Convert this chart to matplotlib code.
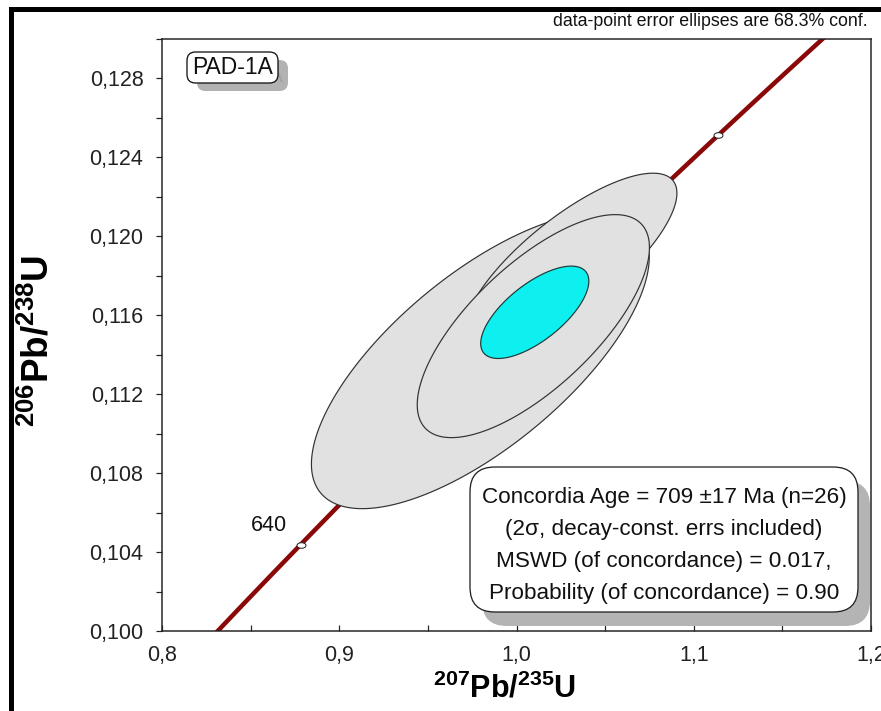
import numpy as np
import matplotlib
matplotlib.use("Agg")
import matplotlib.pyplot as plt
from matplotlib.patches import FancyBboxPatch
from matplotlib.lines import Line2D
from matplotlib.path import Path
from matplotlib.ticker import MultipleLocator, FuncFormatter

plt.rcParams['font.family'] = ['Liberation Sans', 'DejaVu Sans']
plt.rcParams['mathtext.fontset'] = 'custom'
plt.rcParams['mathtext.rm'] = 'Liberation Sans'
plt.rcParams['mathtext.bf'] = 'Liberation Sans:bold'
plt.rcParams['mathtext.it'] = 'Liberation Sans:italic'

# ---------------- data ----------------
# decay constants (1/yr) for the concordia curve
lambda_238 = 1.55125e-10
lambda_235 = 9.8485e-10
curve_age_min_ma = 600
curve_age_max_ma = 800
marker_ages_ma = [640, 760]
labelled_ages_ma = [640]

# data-point error ellipses (68.3% conf.): centre, half-widths, correlation
ell_x = [0.9796, 1.0305, 1.0095]
ell_y = [0.1137, 0.1187, 0.11545]
ell_sx = [0.0953, 0.0600, 0.0655]
ell_sy = [0.0075, 0.0045, 0.00565]
ell_rho = [0.699, 0.775, 0.705]

# concordia age ellipse
age_x, age_y = 1.0103, 0.11615
age_sx, age_sy, age_rho = 0.0305, 0.00234, 0.675

x_ticks = [0.8, 0.9, 1.0, 1.1, 1.2]
y_ticks = [0.100, 0.104, 0.108, 0.112, 0.116, 0.120, 0.124, 0.128]

sample_name = "PAD-1A"
result_lines = ["Concordia Age = 709 \u00b117 Ma (n=26)",
                "(2\u03c3, decay-const. errs included)",
                "MSWD (of concordance) = 0.017,",
                "Probability (of concordance) = 0.90"]
note_text = "data-point error ellipses are 68.3% conf."

# ---------------- figure ----------------
W, H = 881, 711
fig = plt.figure(figsize=(W/100, H/100), dpi=100)
L, R, T, B = 162, 871, 39, 631
ax = fig.add_axes([L/W, (H-B)/H, (R-L)/W, (B-T)/H])
ax.set_xlim(0.8, 1.2)
ax.set_ylim(0.100, 0.130)

def px(v):
    return v * 72 / 100.0

# concordia curve
t = np.linspace(curve_age_min_ma, curve_age_max_ma, 400) * 1e6
cx = np.exp(lambda_235 * t) - 1
cy = np.exp(lambda_238 * t) - 1
ax.plot(cx, cy, color='#8A0808', lw=px(4.5), zorder=2, solid_capstyle='butt')

def ellipse_xy(x0, y0, sx, sy, rho, n=300):
    th = np.linspace(0, 2*np.pi, n)
    return (x0 + sx*np.cos(th),
            y0 + sy*(rho*np.cos(th) + np.sqrt(1-rho**2)*np.sin(th)))

for i in range(len(ell_x)):
    xs, ys = ellipse_xy(ell_x[i], ell_y[i], ell_sx[i], ell_sy[i], ell_rho[i])
    ax.fill(xs, ys, facecolor='#E1E1E1', edgecolor='#333333', lw=px(1.2), zorder=3+i)

xs, ys = ellipse_xy(age_x, age_y, age_sx, age_sy, age_rho)
ax.fill(xs, ys, facecolor='#0EF0F0', edgecolor='#1E3A3A', lw=px(1.2), zorder=10)

# age markers (small flat ellipses)
th = np.linspace(0, 2*np.pi, 40)
ell_marker = Path(np.column_stack([np.cos(th), 0.62*np.sin(th)]), closed=True)
ma = np.array(marker_ages_ma) * 1e6
mx = np.exp(lambda_235 * ma) - 1
my = np.exp(lambda_238 * ma) - 1
ax.plot(mx, my, ls='none', marker=ell_marker, ms=px(9), mfc='white', mec='#222222',
        mew=px(1), zorder=11)
for a in labelled_ages_ma:
    aa = a * 1e6
    ax.annotate(str(a), (np.exp(lambda_235*aa)-1, np.exp(lambda_238*aa)-1),
                xytext=(-32, 19), textcoords='offset pixels', ha='center', va='center',
                fontsize=15.5, color='#111111', zorder=12)

# ticks
ax.xaxis.set_minor_locator(MultipleLocator(0.05))
ax.yaxis.set_minor_locator(MultipleLocator(0.002))
ax.set_xticks(x_ticks)
ax.set_yticks(y_ticks)
ax.xaxis.set_major_formatter(FuncFormatter(lambda v, p: f"{v:.1f}".replace('.', ',')))
ax.yaxis.set_major_formatter(FuncFormatter(lambda v, p: f"{v:.3f}".replace('.', ',')))
ax.tick_params(axis='x', which='both', direction='in', length=px(6), width=px(1.2),
               labelsize=15.5, pad=10, colors='#222222')
ax.tick_params(axis='y', which='both', direction='out', length=px(6), width=px(1.2),
               labelsize=15.5, pad=9, colors='#222222')
for s in ax.spines.values():
    s.set_linewidth(px(1.5))
    s.set_color('#222222')

ax.set_xlabel(r'$\mathbf{^{207}Pb/^{235}U}$', fontsize=22, va='center')
ax.xaxis.set_label_coords((505-L)/(R-L), (B-689)/(B-T))
ax.set_ylabel(r'$\mathbf{^{206}Pb/^{238}U}$', fontsize=26.5, va='center')
ax.yaxis.set_label_coords((38-L)/(R-L), (B-341)/(B-T))

# sample name box with shadow
def ax_x(p): return (p-L)/(R-L)
def ax_y(p): return (B-p)/(B-T)
asp = (R-L)/(B-T)
sh = FancyBboxPatch((ax_x(197), ax_y(91)), ax_x(288)-ax_x(197), ax_y(60)-ax_y(91),
                    boxstyle="round,pad=0,rounding_size=0.012", transform=ax.transAxes,
                    fc='#B2B2B2', ec='none', zorder=20, mutation_aspect=asp)
ax.add_patch(sh)
ax.text(ax_x(243), ax_y(76), sample_name, transform=ax.transAxes, fontsize=16.5,
        color='#A3A3A3', ha='center', va='center', zorder=21)
bx = FancyBboxPatch((ax_x(187), ax_y(83)), ax_x(278)-ax_x(187), ax_y(52)-ax_y(83),
                    boxstyle="round,pad=0,rounding_size=0.012", transform=ax.transAxes,
                    fc='white', ec='#111111', lw=px(1.3), zorder=22, mutation_aspect=asp)
ax.add_patch(bx)
ax.text(ax_x(232.5), ax_y(67.5), sample_name, transform=ax.transAxes, fontsize=16.5,
        color='#111111', ha='center', va='center', zorder=23)

# results box with shadow
sh2 = FancyBboxPatch((ax_x(482), ax_y(626)), ax_x(870)-ax_x(482), ax_y(481)-ax_y(626),
                     boxstyle="round,pad=0,rounding_size=0.035", transform=ax.transAxes,
                     fc='#B4B4B4', ec='none', zorder=20, mutation_aspect=asp)
ax.add_patch(sh2)
bx2 = FancyBboxPatch((ax_x(470), ax_y(612)), ax_x(858)-ax_x(470), ax_y(467)-ax_y(612),
                     boxstyle="round,pad=0,rounding_size=0.035", transform=ax.transAxes,
                     fc='white', ec='#222222', lw=px(1.3), zorder=22, mutation_aspect=asp)
ax.add_patch(bx2)
for i, line in enumerate(result_lines):
    ax.text(ax_x(664), ax_y(498 + 31.7*i), line, transform=ax.transAxes, fontsize=16.2,
            color='#111111', ha='center', va='center', zorder=23)

# note at top
fig.text(868/W, 1-22/H, note_text, fontsize=12.8, ha='right', va='center', color='#111111')

# outer frame (left and top edges)
fig.add_artist(Line2D([10.5/W, 10.5/W], [0, 1-9/H], color='black', lw=px(5),
                      transform=fig.transFigure, solid_capstyle='projecting'))
fig.add_artist(Line2D([10.5/W, 1], [1-9/H, 1-9/H], color='black', lw=px(5),
                      transform=fig.transFigure, solid_capstyle='projecting'))

fig.savefig("out.png", dpi=100)
